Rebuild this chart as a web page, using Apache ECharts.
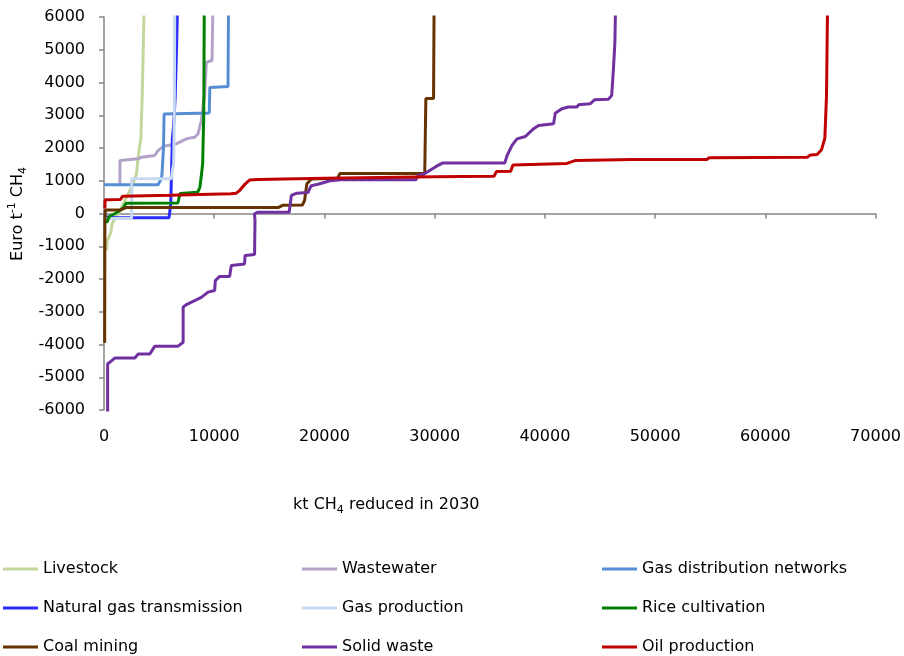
<!DOCTYPE html>
<html>
<head>
<meta charset="utf-8">
<title>Methane abatement cost curves</title>
<script src="https://cdn.jsdelivr.net/npm/echarts@6/dist/echarts.min.js"></script>
<style>
  html, body { margin: 0; padding: 0; background: #ffffff; }
  #chart { width: 904px; height: 656px; }
</style>
</head>
<body>
<div id="chart"></div>
<script>
// Cumulative reduction (kt CH4) vs. marginal cost (Euro per t CH4), one curve per source
const livestock = [[240,-1130],[270,-850],[420,-800],[600,-600],[750,-300],[850,-300],[1450,90],[2050,500],[2500,800],[2950,1210],[3100,1720],[3350,2330],[3470,3650],[3560,4980],[3650,6500]];
const wastewater = [[1440,900],[1450,1620],[1600,1670],[3100,1670],[3400,1720],[4600,1770],[4900,1920],[5370,2050],[6570,2130],[6870,2180],[7480,2280],[8230,2330],[8530,2430],[8830,2840],[9130,3650],[9290,4620],[9800,4670],[9890,6500]];
const gasDistribution = [[0,880],[4900,880],[5100,1000],[5250,1150],[5400,2000],[5450,3040],[5550,3070],[9550,3070],[9600,3850],[9700,3880],[11250,3880],[11300,6500]];
const naturalGasTransmission = [[0,-100],[1000,-130],[5900,-130],[6030,-80],[6060,300],[6120,1200],[6200,2300],[6300,2600],[6450,3500],[6580,5000],[6680,6500]];
const gasProduction = [[0,-150],[2500,-150],[2520,1060],[6100,1060],[6200,1310],[6320,1500],[6380,3000],[6420,6500]];
const riceCultivation = [[0,-250],[300,-250],[450,-100],[1000,0],[1500,100],[1800,200],[2000,310],[6700,320],[6900,610],[8500,650],[8700,800],[8850,1210],[8950,1520],[9050,3000],[9100,6500]];
const coalMining = [[60,-3950],[80,-200],[120,110],[1500,110],[2000,180],[15800,180],[16200,250],[18000,260],[18200,400],[18400,900],[18800,1050],[21200,1080],[21400,1220],[29100,1220],[29200,3510],[29900,3510],[29950,6500]];
const solidWaste = [[330,-6100],[330,-4590],[540,-4540],[1000,-4410],[2800,-4410],[3100,-4290],[4160,-4290],[4610,-4050],[6720,-4050],[7180,-3930],[7180,-2860],[7480,-2780],[8830,-2560],[9440,-2400],[10040,-2350],[10100,-2050],[10490,-1920],[11400,-1920],[11550,-1590],[12750,-1540],[12800,-1280],[13660,-1250],[13700,-210],[13650,-10],[13960,40],[16800,40],[17000,550],[17500,620],[18500,640],[18800,850],[19500,900],[20500,1000],[21500,1030],[28300,1030],[28500,1160],[29000,1200],[30100,1430],[30700,1540],[36360,1540],[36570,1770],[37020,2080],[37470,2280],[38230,2350],[38980,2590],[39430,2690],[40790,2740],[40940,3060],[41540,3200],[42140,3250],[42900,3250],[43050,3320],[44100,3350],[44500,3470],[45760,3490],[46060,3600],[46210,4370],[46350,5200],[46420,6500]];
const oilProduction = [[80,150],[100,420],[1500,430],[1700,530],[6000,560],[11500,600],[12000,620],[12300,700],[12800,900],[13200,1020],[14000,1040],[20000,1080],[30000,1120],[35400,1140],[35600,1280],[36900,1290],[37100,1480],[42000,1530],[42800,1620],[48000,1650],[54700,1650],[54900,1700],[63800,1720],[64100,1790],[64700,1800],[65100,1950],[65400,2300],[65550,3600],[65650,6500]];

const seriesNames = ['Livestock','Wastewater','Gas distribution networks','Natural gas transmission','Gas production','Rice cultivation','Coal mining','Solid waste','Oil production'];
const seriesData = [livestock, wastewater, gasDistribution, naturalGasTransmission, gasProduction, riceCultivation, coalMining, solidWaste, oilProduction];
const seriesColors = ['#c3d69b','#b3a2c7','#558ed5','#2b2bff','#c6d9f1','#008000','#663300','#7030a0','#c00000'];

const xTicks = { min: 0, max: 70000, interval: 10000 };
const yTicks = { min: -6000, max: 6000, interval: 1000 };

const FONT = 'DejaVu Sans';
const axisGray = '#868686';

const chart = echarts.init(document.getElementById('chart'), null, { renderer: 'canvas' });

// Legend laid out as three columns of three entries
const legendColumns = [
  ['Livestock','Natural gas transmission','Coal mining'],
  ['Wastewater','Gas production','Solid waste'],
  ['Gas distribution networks','Rice cultivation','Oil production']
];
const legendLefts = [3, 302, 602];

chart.setOption({
  animation: false,
  backgroundColor: '#ffffff',
  grid: { left: 104, right: 26, top: 17, bottom: 246 },
  xAxis: {
    type: 'value',
    min: xTicks.min, max: xTicks.max, interval: xTicks.interval,
    axisLine: { show: true, onZero: true, lineStyle: { color: axisGray, width: 1.5 } },
    axisTick: { show: true, inside: false, length: 5, lineStyle: { color: axisGray, width: 1.5 } },
    axisLabel: { margin: 19, color: '#000', fontFamily: FONT, fontSize: 16, formatter: v => String(v) },
    splitLine: { show: false }
  },
  yAxis: {
    type: 'value',
    min: yTicks.min, max: yTicks.max, interval: yTicks.interval,
    axisLine: { show: true, lineStyle: { color: axisGray, width: 1.5 } },
    axisTick: { show: true, inside: false, length: 5, lineStyle: { color: axisGray, width: 1.5 } },
    axisLabel: { margin: 19, color: '#000', fontFamily: FONT, fontSize: 16, formatter: v => String(v) },
    splitLine: { show: false }
  },
  legend: legendColumns.map((col, i) => ({
    data: col,
    orient: 'vertical',
    left: legendLefts[i],
    top: 559,
    height: 120,
    padding: 0,
    icon: 'rect',
    itemWidth: 35,
    itemHeight: 3,
    itemGap: 19,
    selectedMode: false,
    textStyle: { fontFamily: FONT, fontSize: 16, color: '#000', lineHeight: 20 }
  })),
  graphic: [
    {
      type: 'text',
      x: 18, y: 214,
      rotation: Math.PI / 2,
      style: {
        text: '{n|Euro t}{sup|-1}{n| CH}{sub|4}',
        align: 'center',
        verticalAlign: 'middle',
        rich: {
          n: { fontFamily: FONT, fontSize: 16, color: '#000', lineHeight: 22, verticalAlign: 'middle' },
          sup: { fontFamily: FONT, fontSize: 11, color: '#000', lineHeight: 22, verticalAlign: 'top' },
          sub: { fontFamily: FONT, fontSize: 11, color: '#000', lineHeight: 22, verticalAlign: 'bottom' }
        }
      }
    },
    {
      type: 'text',
      x: 293, y: 505,
      style: {
        text: '{n|kt CH}{sub|4}{n| reduced in 2030}',
        align: 'left',
        verticalAlign: 'middle',
        rich: {
          n: { fontFamily: FONT, fontSize: 16, color: '#000', lineHeight: 22, verticalAlign: 'middle' },
          sub: { fontFamily: FONT, fontSize: 11, color: '#000', lineHeight: 22, verticalAlign: 'bottom' }
        }
      }
    }
  ],
  series: seriesNames.map((name, i) => ({
    name,
    type: 'line',
    data: seriesData[i],
    showSymbol: false,
    symbol: 'none',
    clip: true,
    lineStyle: { width: 3, color: seriesColors[i] },
    itemStyle: { color: seriesColors[i] },
    emphasis: { disabled: true }
  }))
});
</script>
</body>
</html>
